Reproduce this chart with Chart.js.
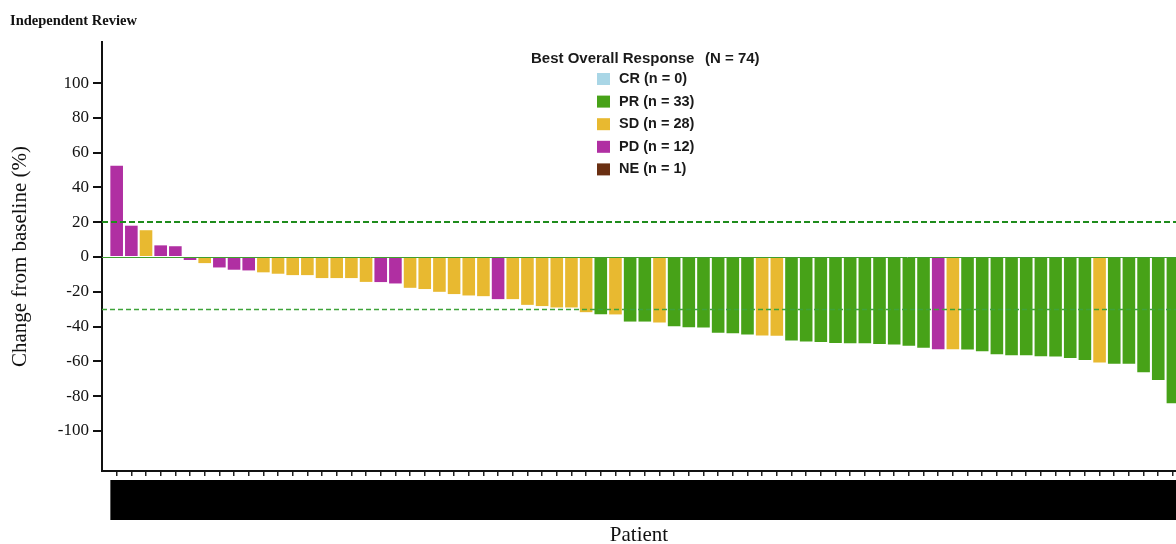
<!DOCTYPE html>
<html>
<head>
<meta charset="utf-8">
<script src="https://cdn.jsdelivr.net/npm/chart.js@4/dist/chart.umd.min.js"></script>
<style>
html,body{margin:0;padding:0;background:#fff;overflow:hidden}
#wrap{width:1176px;height:544px;position:relative}
</style>
</head>
<body>
<div id="wrap"><canvas id="c"></canvas></div>
<script>
// ---- data (73 visible patients; the chart is cropped on the right) ----
const patients = [1,2,3,4,5,6,7,8,9,10,11,12,13,14,15,16,17,18,19,20,21,22,23,24,25,26,27,28,29,30,31,32,33,34,35,36,37,38,39,40,41,42,43,44,45,46,47,48,49,50,51,52,53,54,55,56,57,58,59,60,61,62,63,64,65,66,67,68,69,70,71,72,73];
const changes = [52.4,18.0,15.4,6.7,6.2,-1.7,-3.5,-6.0,-7.3,-7.7,
  -8.8,-9.6,-10.4,-10.4,-12.1,-12.1,-12.1,-14.3,-14.4,-15.2,
  -17.7,-18.4,-20.0,-21.3,-22.1,-22.5,-24.2,-24.2,-27.5,-28.2,
  -29.0,-29.0,-31.7,-32.9,-33.0,-37.1,-37.1,-37.7,-39.8,-40.3,
  -40.5,-43.6,-43.8,-44.6,-45.1,-45.3,-48.0,-48.6,-48.8,-49.4,
  -49.6,-49.6,-50.0,-50.3,-51.0,-52.2,-53.0,-53.0,-53.2,-54.2,
  -55.9,-56.5,-56.5,-57.1,-57.2,-58.0,-59.2,-60.7,-61.3,-61.3,
  -66.3,-70.7,-84.0];
const responses = ['PD','PD','SD','PD','PD','PD','SD','PD','PD','PD',
  'SD','SD','SD','SD','SD','SD','SD','SD','PD','PD',
  'SD','SD','SD','SD','SD','SD','PD','SD','SD','SD',
  'SD','SD','SD','PR','SD','PR','PR','SD','PR','PR',
  'PR','PR','PR','PR','SD','SD','PR','PR','PR','PR',
  'PR','PR','PR','PR','PR','PR','PD','SD','PR','PR',
  'PR','PR','PR','PR','PR','PR','PR','SD','PR','PR',
  'PR','PR','PR'];
const responseCategories = ['CR','PR','SD','PD','NE'];
const responseCounts = [0,33,28,12,1];
const totalN = 74;
const responseColors = {CR:'#a9d6e6', PR:'#47a218', SD:'#e8b930', PD:'#b02fa2', NE:'#6a2f12'};
const yTickValues = [100,80,60,40,20,0,-20,-40,-60,-80,-100];
const upperThreshold = 20;
const lowerThreshold = -30;

const SERIF = "'Liberation Serif','Times New Roman',serif";
const SANS = "'Liberation Sans',Arial,sans-serif";
const BAR_FRACTION = 0.86;

const overlay = {
  id: 'overlay',
  afterDatasetsDraw(chart) {
    const {ctx, chartArea: a, scales: {y}} = chart;
    ctx.save();
    const y0 = Math.round(y.getPixelForValue(0)) + 0.5;
    ctx.strokeStyle = '#3f9f2e'; ctx.lineWidth = 1; ctx.setLineDash([]);
    ctx.beginPath(); ctx.moveTo(a.left, y0); ctx.lineTo(a.right, y0); ctx.stroke();
    const yu = Math.round(y.getPixelForValue(upperThreshold));
    ctx.strokeStyle = '#1f8c1c'; ctx.lineWidth = 2; ctx.setLineDash([6, 3]);
    ctx.beginPath(); ctx.moveTo(a.left, yu); ctx.lineTo(a.right, yu); ctx.stroke();
    const yl = Math.round(y.getPixelForValue(lowerThreshold)) + 0.5;
    ctx.strokeStyle = '#3ea33a'; ctx.lineWidth = 1.5; ctx.setLineDash([5, 3]);
    ctx.beginPath(); ctx.moveTo(a.left, yl); ctx.lineTo(a.right, yl); ctx.stroke();
    ctx.restore();
  },
  afterDraw(chart) {
    const {ctx, chartArea: a, scales: {x}} = chart;
    ctx.save();
    const pitch = x.getPixelForValue(patients[1]) - x.getPixelForValue(patients[0]);
    const left = x.getPixelForValue(patients[0]) - pitch * BAR_FRACTION / 2;
    ctx.fillStyle = '#000';
    ctx.fillRect(left, a.bottom + 9, chart.width - left, 40);
    ctx.fillStyle = '#1a1a1a';
    ctx.textBaseline = 'middle';
    ctx.textAlign = 'left';
    ctx.font = 'bold 15px ' + SANS;
    ctx.fillText('Best Overall Response', 531, 59);
    ctx.fillText('(N = ' + totalN + ')', 705, 59);
    ctx.font = 'bold 14.5px ' + SANS;
    responseCategories.forEach((cat, i) => {
      const cy = 79 + i * 22.6;
      ctx.fillStyle = responseColors[cat];
      ctx.fillRect(597, cy - 6, 13, 12);
      ctx.fillStyle = '#1a1a1a';
      ctx.fillText(cat + ' (n = ' + responseCounts[i] + ')', 619, cy);
    });
    ctx.restore();
  }
};

new Chart(document.getElementById('c'), {
  type: 'bar',
  data: {
    datasets: [{
      data: patients.map((p, i) => ({x: p, y: changes[i]})),
      backgroundColor: responses.map(r => responseColors[r]),
      borderWidth: 0,
      barPercentage: BAR_FRACTION,
      categoryPercentage: 1
    }]
  },
  options: {
    responsive: true,
    maintainAspectRatio: false,
    animation: false,
    layout: {padding: {left: 10, right: 0, top: 0, bottom: 0}},
    plugins: {
      legend: {display: false},
      tooltip: {enabled: false},
      title: {
        display: true, text: 'Independent Review', align: 'start',
        font: {family: SERIF, size: 14.5, weight: 'bold'}, color: '#111',
        padding: {top: 12.5, bottom: 12.1}
      }
    },
    scales: {
      x: {
        type: 'linear', min: 0, max: 73.21, offset: false,
        afterBuildTicks: s => { s.ticks = patients.map(v => ({value: v})); },
        ticks: {display: false},
        grid: {offset: false, drawOnChartArea: false, drawTicks: true, tickLength: 5, color: '#222', lineWidth: 1.5},
        border: {color: '#111', width: 2},
        title: {display: true, text: 'Patient', font: {family: SERIF, size: 21, lineHeight: 0.8}, color: '#111', padding: 0},
        afterFit: s => { s.height = 73; }
      },
      y: {
        min: -123, max: 123.6,
        afterBuildTicks: s => { s.ticks = yTickValues.map(v => ({value: v})); },
        ticks: {font: {family: SERIF, size: 17}, color: '#111', padding: 4},
        grid: {drawOnChartArea: false, tickLength: 9, color: '#111', lineWidth: 2},
        border: {color: '#111', width: 2},
        title: {display: true, text: 'Change from baseline (%)', font: {family: SERIF, size: 21, lineHeight: 1}, color: '#111', padding: 0},
        afterFit: s => { s.width = 92; }
      }
    }
  },
  plugins: [overlay]
});
</script>
</body>
</html>
